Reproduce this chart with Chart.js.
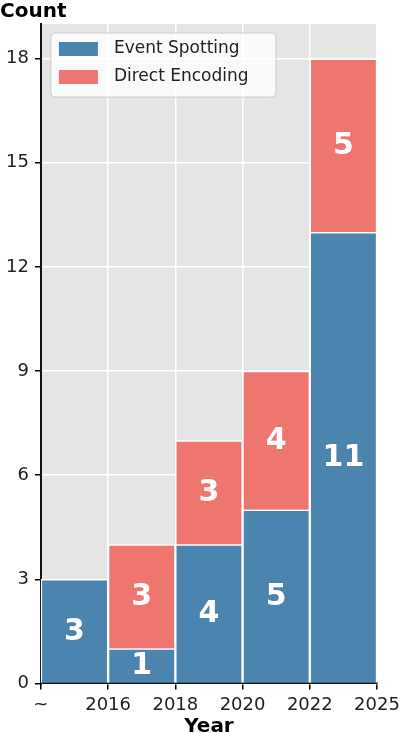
<!DOCTYPE html>
<html>
<head>
<meta charset="utf-8">
<script src="https://cdn.jsdelivr.net/npm/chart.js@4"></script>
<style>
  html, body { margin: 0; padding: 0; background: #fff; }
  #wrap { width: 402px; height: 733px; }
</style>
</head>
<body>
<div id="wrap"><canvas id="chart"></canvas></div>
<script>
// bins of years
const bins = ['~2016', '2016-2018', '2018-2020', '2020-2022', '2022-2025'];
const edgeLabels = ['~', '2016', '2018', '2020', '2022', '2025'];
const eventSpotting = [3, 1, 4, 5, 13];
const directEncoding = [0, 3, 3, 4, 5];
// the numbers printed on the bars (last blue one says 11 in the original)
const eventLabels = ['3', '1', '4', '5', '11'];
const directLabels = ['', '3', '3', '4', '5'];
const yTicks = [0, 3, 6, 9, 12, 15, 18];

const FONT = "'DejaVu Sans', sans-serif";
const BLUE = '#4b84ae';
const RED = '#ef766f';

// grey background behind the plot
const bgPlugin = {
  id: 'bg',
  beforeDraw(chart) {
    const a = chart.chartArea, c = chart.ctx;
    c.save();
    c.fillStyle = '#e5e5e5';
    c.fillRect(a.left, a.top, a.right - a.left, a.bottom - a.top);
    c.restore();
  }
};

// numbers in the middle of each segment
const labelPlugin = {
  id: 'segLabels',
  afterDatasetsDraw(chart) {
    const c = chart.ctx;
    const texts = [eventLabels, directLabels];
    c.save();
    c.fillStyle = '#fff';
    c.font = 'bold 30px ' + FONT;
    c.textAlign = 'center';
    c.textBaseline = 'middle';
    chart.data.datasets.forEach((ds, di) => {
      chart.getDatasetMeta(di).data.forEach((bar, i) => {
        const t = texts[di][i];
        if (!t) return;
        const p = bar.getProps(['x', 'y', 'base'], true);
        c.fillText(t, p.x, (p.y + p.base) / 2 + 1);
      });
    });
    c.restore();
  }
};

// legend box in the upper left corner of the plot
const legendPlugin = {
  id: 'boxLegend',
  afterDraw(chart) {
    const a = chart.chartArea, c = chart.ctx;
    const x = a.left + 10, y = a.top + 9, w = 225, h = 64;
    c.save();
    c.beginPath();
    c.roundRect(x, y, w, h, 4);
    c.fillStyle = 'rgba(255,255,255,0.8)';
    c.fill();
    c.strokeStyle = '#cccccc';
    c.lineWidth = 1;
    c.stroke();
    c.font = '17px ' + FONT;
    c.textBaseline = 'middle';
    chart.data.datasets.forEach((ds, i) => {
      const ry = y + 9 + i * 28;
      c.fillStyle = ds.backgroundColor;
      c.fillRect(x + 8, ry, 39, 14);
      c.fillStyle = '#222';
      c.fillText(ds.label, x + 63, ry + 7);
    });
    c.restore();
  }
};

new Chart(document.getElementById('chart'), {
  type: 'bar',
  data: {
    labels: bins,
    datasets: [
      { label: 'Event Spotting', data: eventSpotting, backgroundColor: BLUE, borderColor: '#fff', borderWidth: 1.5, barPercentage: 1, categoryPercentage: 1, xAxisID: 'x' },
      { label: 'Direct Encoding', data: directEncoding, backgroundColor: RED, borderColor: '#fff', borderWidth: 1.5, barPercentage: 1, categoryPercentage: 1, xAxisID: 'x' }
    ]
  },
  options: {
    responsive: true,
    maintainAspectRatio: false,
    animation: false,
    layout: { padding: { left: 0, right: 0, top: 0, bottom: -6 } },
    plugins: {
      legend: { display: false },
      tooltip: { enabled: false },
      title: {
        display: true,
        text: 'Count',
        align: 'start',
        color: '#000',
        font: { family: FONT, size: 20, weight: 'bold' },
        padding: { top: 0, bottom: 0 }
      }
    },
    scales: {
      x: { stacked: true, display: false },
      x2: {
        type: 'linear',
        position: 'bottom',
        offset: false,
        min: 0,
        max: 5,
        afterBuildTicks: s => { s.ticks = edgeLabels.map((_, i) => ({ value: i })); },
        afterFit: s => { s.paddingRight = 25; },
        ticks: {
          callback: v => edgeLabels[v],
          color: '#222',
          font: { family: FONT, size: 18 },
          padding: 5,
          maxRotation: 0,
          autoSkip: false
        },
        grid: { offset: false, color: '#fff', lineWidth: 1.5, tickColor: '#000', tickLength: 6 },
        border: { color: '#111', width: 2 },
        title: {
          display: true,
          text: 'Year',
          color: '#000',
          font: { family: FONT, size: 20, weight: 'bold' },
          padding: { top: -6, bottom: 0 }
        }
      },
      y: {
        stacked: true,
        min: 0,
        max: 19,
        afterBuildTicks: s => { s.ticks = yTicks.map(v => ({ value: v })); },
        ticks: {
          color: '#222',
          font: { family: FONT, size: 18 },
          padding: 6
        },
        grid: { color: '#fff', lineWidth: 1.5, tickColor: '#000', tickLength: 6 },
        border: { color: '#111', width: 2 }
      }
    }
  },
  plugins: [bgPlugin, labelPlugin, legendPlugin]
});
</script>
</body>
</html>
